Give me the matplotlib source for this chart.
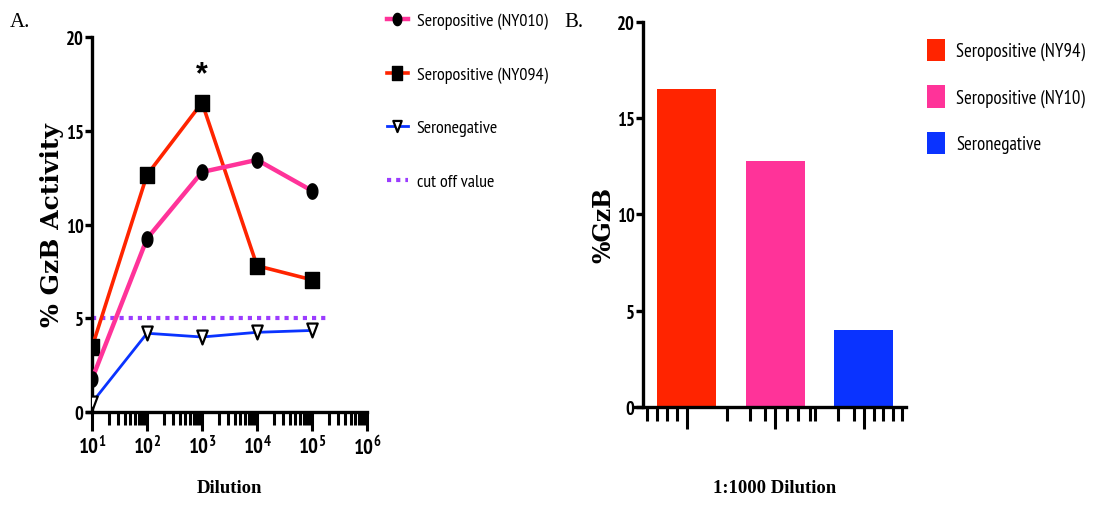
import matplotlib
matplotlib.use("Agg")
import numpy as np
import matplotlib.pyplot as plt
from matplotlib.path import Path
from matplotlib.lines import Line2D
from matplotlib.patches import Patch
from matplotlib.ticker import FixedLocator, FuncFormatter, LogLocator, NullFormatter

# ---- Panel A: GzB activity across dilutions ----
dilution = [1e1, 1e2, 1e3, 1e4, 1e5]
ny010 = [1.75, 9.25, 12.8, 13.45, 11.8]
ny094 = [3.45, 12.65, 16.5, 7.8, 7.05]
seronegative = [0.5, 4.2, 4.0, 4.25, 4.35]
cutoff_value = 5
cutoff_span = [1e1, 2e5]
legend_a_labels = ["Seropositive (NY010)", "Seropositive (NY094)",
                   "Seronegative", "cut off value"]
yticks = [0, 5, 10, 15, 20]

# ---- Panel B: 1:1000 dilution ----
bar_labels = ["Seropositive (NY94)", "Seropositive (NY10)", "Seronegative"]
bar_values = [16.5, 12.8, 4.0]

PINK = "#ff3399"
RED = "#ff2400"
BLUE = "#0a33ff"
PURPLE = "#9b3cff"

NARROW = ["PT Sans Narrow", "Roboto Condensed", "Liberation Sans", "DejaVu Sans"]
SERIF = ["Liberation Serif", "DejaVu Serif"]
plt.rcParams["font.family"] = NARROW
plt.rcParams["mathtext.default"] = "regular"

# tall marker shapes
t = np.linspace(0, 2 * np.pi, 60)
ellipse = Path(np.column_stack([0.7 * np.cos(t), np.sin(t)]))
tall_square = Path([(-0.8, -1), (0.8, -1), (0.8, 1), (-0.8, 1), (-0.8, -1)],
                   [Path.MOVETO, Path.LINETO, Path.LINETO, Path.LINETO, Path.CLOSEPOLY])
tall_tri_down = Path([(-0.75, 1), (0.75, 1), (0, -1), (-0.75, 1)],
                     [Path.MOVETO, Path.LINETO, Path.LINETO, Path.CLOSEPOLY])

fig = plt.figure(figsize=(10.98, 5.06), dpi=100)
axA = fig.add_axes([0.0838, 0.1838, 0.2505, 0.741])
axB = fig.add_axes([0.5856, 0.1937, 0.2395, 0.7609])


def style_axes(ax):
    for side in ("top", "right"):
        ax.spines[side].set_visible(False)
    for side in ("left", "bottom"):
        ax.spines[side].set_linewidth(2.4)
        ax.spines[side].set_color("black")
    ax.tick_params(axis="y", which="major", direction="out", length=5,
                   width=2.4, pad=1, labelsize=13.5)
    for lab in ax.get_yticklabels():
        lab.set_fontweight("bold")


# ---- Panel A ----
axA.set_xscale("log")
axA.plot(cutoff_span, [cutoff_value] * 2, color=PURPLE, lw=3,
         linestyle=(0, (1, 1.2)), zorder=2)
l_red, = axA.plot(dilution, ny094, color=RED, lw=2.6, marker=tall_square,
                  ms=12, mfc="black", mec="black", zorder=3)
l_pink, = axA.plot(dilution, ny010, color=PINK, lw=3.2, marker=ellipse,
                   ms=11, mfc="black", mec="black", zorder=4)
l_blue, = axA.plot(dilution, seronegative, color=BLUE, lw=2.0,
                   marker=tall_tri_down, ms=10, mfc="white", mec="black",
                   mew=1.6, zorder=5)
axA.text(1e3, 18.0, "*", ha="center", va="center", fontsize=22,
         fontweight="bold", family=["Liberation Sans", "DejaVu Sans"])

axA.set_xlim(1e1, 1e6)
axA.set_ylim(0, 20)
axA.set_yticks(yticks)
axA.xaxis.set_major_locator(LogLocator(base=10, numticks=10))
axA.xaxis.set_minor_locator(LogLocator(base=10, subs=np.arange(2, 10), numticks=10))
axA.xaxis.set_minor_formatter(NullFormatter())
axA.xaxis.set_major_formatter(
    FuncFormatter(lambda v, p: r"$\mathregular{10^{%d}}$" % round(np.log10(v))))
style_axes(axA)
axA.tick_params(axis="x", which="major", direction="out", length=14,
                width=2.2, pad=2, labelsize=15)
axA.tick_params(axis="x", which="minor", direction="out", length=9, width=2.2)
for lab in axA.get_xticklabels():
    lab.set_fontweight("bold")
axA.spines["bottom"].set_bounds(10 ** 0.9, 1e6)
axA.spines["left"].set_bounds(0, 20)

axA.set_ylabel("% GzB Activity", family=["DejaVu Serif"], fontweight="bold",
               fontsize=18)
axA.yaxis.set_label_coords(-0.102, 0.5)
axA.set_xlabel("Dilution", family=SERIF, fontweight="bold", fontsize=13.5)
axA.xaxis.set_label_coords(0.5, -0.178)

fig.legend([l_pink, l_red, l_blue,
            Line2D([], [], color=PURPLE, lw=3, linestyle=(0, (1, 1.2)))],
           legend_a_labels, loc="upper left", bbox_to_anchor=(0.340, 1.0),
           frameon=False, fontsize=13, handlelength=1.15, handletextpad=0.5,
           labelspacing=2.05, borderaxespad=0.35, markerscale=0.8)

# ---- Panel B ----
xpos = np.arange(len(bar_values))
axB.bar(xpos, bar_values, width=0.668, color=[RED, PINK, BLUE], zorder=2)
axB.set_xlim(-0.497, 2.479)
axB.set_ylim(0, 20)
axB.set_yticks(yticks)
axB.set_xticks(xpos)
axB.set_xticklabels([])
axB.xaxis.set_minor_locator(FixedLocator(
    [-0.455, -0.342, -0.229, -0.116, 0.451, 0.715, 0.884, 1.130, 1.262,
     1.394, 1.451, 1.715, 1.886, 2.113, 2.224, 2.337, 2.433]))
style_axes(axB)
axB.tick_params(axis="x", which="major", direction="out", length=16, width=2.2)
axB.tick_params(axis="x", which="minor", direction="out", length=10, width=2.2)
axB.spines["bottom"].set_bounds(-0.59, 2.479)
axB.spines["left"].set_bounds(0, 20)

axB.set_ylabel("%GzB", family=["DejaVu Serif"], fontweight="bold", fontsize=17)
axB.yaxis.set_label_coords(-0.104, 0.475)
axB.set_xlabel("1:1000 Dilution", family=SERIF, fontweight="bold", fontsize=13.5)
axB.xaxis.set_label_coords(0.5, -0.188)

fig.legend([Patch(facecolor=c) for c in (RED, PINK, BLUE)], bar_labels,
           loc="upper left", bbox_to_anchor=(0.829, 0.955), frameon=False,
           fontsize=13.5, handlelength=0.95, handleheight=1.45,
           handletextpad=0.6, labelspacing=1.3)

fig.text(0.009, 0.955, "A.", family=SERIF, fontsize=15, va="center")
fig.text(0.514, 0.955, "B.", family=SERIF, fontsize=15, va="center")

fig.savefig("out.png", dpi=100)
